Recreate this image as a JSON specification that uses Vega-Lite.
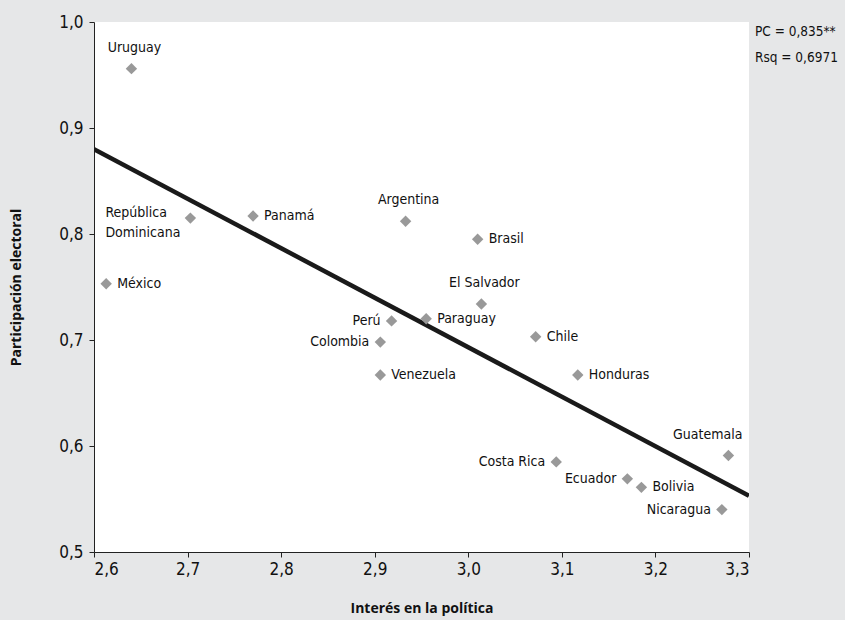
{
  "$schema": "https://vega.github.io/schema/vega-lite/v6.json",
  "width": 655,
  "height": 530,
  "autosize": {"type": "none"},
  "padding": {"left": 94, "top": 22, "right": 96, "bottom": 68},
  "background": "#e6e7e8",
  "view": {"fill": "white", "stroke": null},
  "config": {
    "font": "'Liberation Sans Narrow', 'DejaVu Sans Condensed', 'Open Sans', sans-serif",
    "axis": {"domainColor": "#222", "tickColor": "#222", "grid": false, "labelColor": "#111", "titleColor": "#111", "labelFont": "'Liberation Sans Narrow', 'DejaVu Sans Condensed', 'Open Sans', sans-serif", "titleFont": "'Open Sans', sans-serif"}
  },
  "datasets": {
    "paises": [
      {"pais": "Uruguay", "interes": 2.640, "participacion": 0.956, "lado": "arriba"},
      {"pais": "República Dominicana", "interes": 2.703, "participacion": 0.815, "lado": "izquierda2"},
      {"pais": "Panamá", "interes": 2.770, "participacion": 0.817, "lado": "derecha"},
      {"pais": "México", "interes": 2.613, "participacion": 0.753, "lado": "derecha"},
      {"pais": "Argentina", "interes": 2.933, "participacion": 0.812, "lado": "arriba"},
      {"pais": "Brasil", "interes": 3.010, "participacion": 0.795, "lado": "derecha"},
      {"pais": "El Salvador", "interes": 3.014, "participacion": 0.734, "lado": "arriba"},
      {"pais": "Paraguay", "interes": 2.955, "participacion": 0.720, "lado": "derecha"},
      {"pais": "Perú", "interes": 2.918, "participacion": 0.718, "lado": "izquierda"},
      {"pais": "Colombia", "interes": 2.906, "participacion": 0.698, "lado": "izquierda"},
      {"pais": "Venezuela", "interes": 2.906, "participacion": 0.667, "lado": "derecha"},
      {"pais": "Chile", "interes": 3.072, "participacion": 0.703, "lado": "derecha"},
      {"pais": "Honduras", "interes": 3.117, "participacion": 0.667, "lado": "derecha"},
      {"pais": "Guatemala", "interes": 3.278, "participacion": 0.591, "lado": "arriba-izquierda"},
      {"pais": "Costa Rica", "interes": 3.094, "participacion": 0.585, "lado": "izquierda"},
      {"pais": "Ecuador", "interes": 3.170, "participacion": 0.569, "lado": "izquierda"},
      {"pais": "Bolivia", "interes": 3.185, "participacion": 0.561, "lado": "derecha"},
      {"pais": "Nicaragua", "interes": 3.271, "participacion": 0.540, "lado": "izquierda"}
    ],
    "recta": [
      {"interes": 2.6, "participacion": 0.880},
      {"interes": 3.3, "participacion": 0.553}
    ]
  },
  "layer": [
    {
      "data": {"name": "recta"},
      "mark": {"type": "line", "color": "#1a1a1a", "strokeWidth": 4.5, "clip": true},
      "encoding": {
        "x": {"field": "interes", "type": "quantitative", "scale": {"domain": [2.6, 3.3], "nice": false, "zero": false},
          "axis": {"title": "Interés en la política", "values": [2.6, 2.7, 2.8, 2.9, 3.0, 3.1, 3.2, 3.3], "labelExpr": "replace(format(datum.value, '.1f'), '.', ',')", "labelFontSize": 17, "labelPadding": 4, "tickSize": 5, "titleFontSize": 14, "titleFontWeight": "bold", "titlePadding": 24}},
        "y": {"field": "participacion", "type": "quantitative", "scale": {"domain": [0.5, 1.0], "nice": false, "zero": false},
          "axis": {"title": "Participación electoral", "values": [0.5, 0.6, 0.7, 0.8, 0.9, 1.0], "labelExpr": "replace(format(datum.value, '.1f'), '.', ',')", "labelFontSize": 17, "labelPadding": 6, "tickSize": 5, "titleFontSize": 14, "titleFontWeight": "bold", "titlePadding": 35}}
      }
    },
    {
      "data": {"name": "paises"},
      "mark": {"type": "point", "shape": "diamond", "filled": true, "color": "#999999", "size": 130, "opacity": 1},
      "encoding": {
        "x": {"field": "interes", "type": "quantitative"},
        "y": {"field": "participacion", "type": "quantitative"}
      }
    },
    {
      "data": {"name": "paises"},
      "transform": [{"filter": "datum.lado === 'derecha'"}],
      "mark": {"type": "text", "align": "left", "baseline": "middle", "dx": 11, "fontSize": 14, "color": "#111"},
      "encoding": {
        "x": {"field": "interes", "type": "quantitative"},
        "y": {"field": "participacion", "type": "quantitative"},
        "text": {"field": "pais"}
      }
    },
    {
      "data": {"name": "paises"},
      "transform": [{"filter": "datum.lado === 'izquierda'"}],
      "mark": {"type": "text", "align": "right", "baseline": "middle", "dx": -11, "fontSize": 14, "color": "#111"},
      "encoding": {
        "x": {"field": "interes", "type": "quantitative"},
        "y": {"field": "participacion", "type": "quantitative"},
        "text": {"field": "pais"}
      }
    },
    {
      "data": {"name": "paises"},
      "transform": [{"filter": "datum.lado === 'izquierda2'"}],
      "mark": {"type": "text", "align": "left", "baseline": "middle", "dx": -85, "dy": -5, "fontSize": 14, "lineHeight": 20, "color": "#111", "lineBreak": " "},
      "encoding": {
        "x": {"field": "interes", "type": "quantitative"},
        "y": {"field": "participacion", "type": "quantitative"},
        "text": {"field": "pais"}
      }
    },
    {
      "data": {"name": "paises"},
      "transform": [{"filter": "datum.lado === 'arriba'"}],
      "mark": {"type": "text", "align": "center", "baseline": "bottom", "dx": 3, "dy": -14, "fontSize": 14, "color": "#111"},
      "encoding": {
        "x": {"field": "interes", "type": "quantitative"},
        "y": {"field": "participacion", "type": "quantitative"},
        "text": {"field": "pais"}
      }
    },
    {
      "data": {"name": "paises"},
      "transform": [{"filter": "datum.lado === 'arriba-izquierda'"}],
      "mark": {"type": "text", "align": "right", "baseline": "bottom", "dx": 14, "dy": -14, "fontSize": 14, "color": "#111"},
      "encoding": {
        "x": {"field": "interes", "type": "quantitative"},
        "y": {"field": "participacion", "type": "quantitative"},
        "text": {"field": "pais"}
      }
    },
    {
      "data": {"values": [{"texto": "PC = 0,835**", "fila": 0.991}, {"texto": "Rsq = 0,6971", "fila": 0.966}]},
      "mark": {"type": "text", "align": "left", "baseline": "middle", "dx": 6, "fontSize": 13.5, "color": "#111", "clip": false},
      "encoding": {
        "x": {"datum": 3.3, "type": "quantitative"},
        "y": {"field": "fila", "type": "quantitative"},
        "text": {"field": "texto"}
      }
    }
  ]
}
